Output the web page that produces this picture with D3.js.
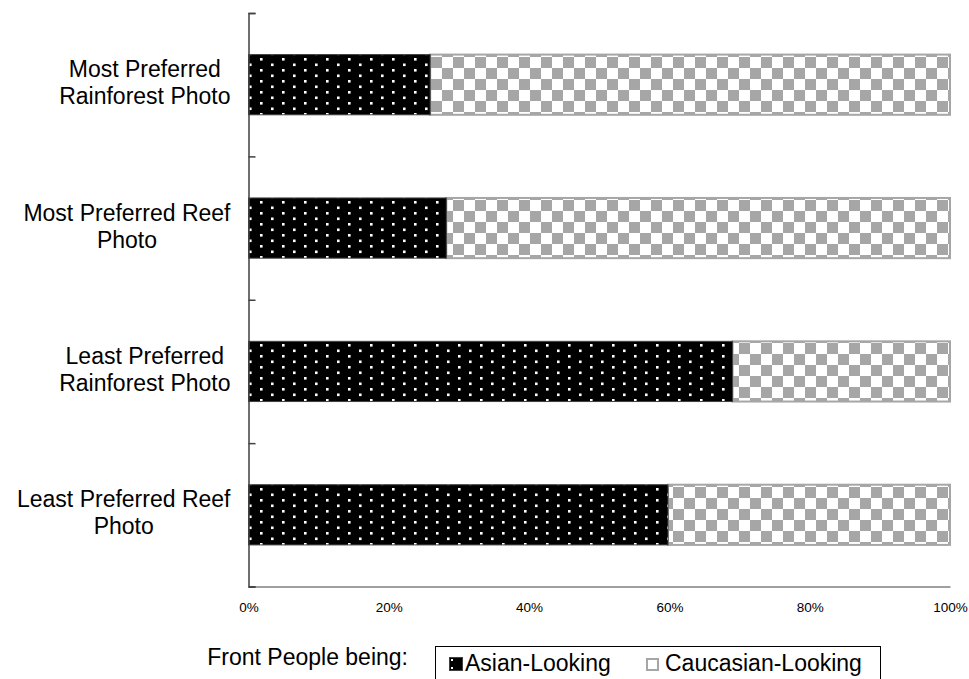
<!DOCTYPE html>
<html>
<head>
<meta charset="utf-8">
<script src="https://cdn.jsdelivr.net/npm/d3@7"></script>
<style>
  html, body { margin: 0; padding: 0; background: #fff; }
  svg { display: block; }
  text { font-family: "Liberation Sans", Arial, sans-serif; fill: #000; }
</style>
</head>
<body>
<svg id="chart" width="969" height="679"></svg>
<script>
// ---- data ----
const categories = [
  "Most Preferred\nRainforest Photo",
  "Most Preferred Reef\nPhoto",
  "Least Preferred\nRainforest Photo",
  "Least Preferred Reef\nPhoto"
];
const asianLooking = [0.259, 0.282, 0.690, 0.598];
const caucasianLooking = asianLooking.map(v => 1 - v);
const xTicks = [0, 0.2, 0.4, 0.6, 0.8, 1.0];
const seriesNames = ["Asian-Looking", "Caucasian-Looking"];
const legendTitle = "Front People being:";

// ---- layout ----
const svg = d3.select("#chart");
const mLeft = 248.5, mRight = 950, mTop = 13, mBottom = 586.5;

const x = d3.scaleLinear().domain([0, 1]).range([mLeft, mRight]);
const y = d3.scaleBand().domain(categories).range([mTop, mBottom])
  .paddingInner(0.58).paddingOuter(0.29);

const defs = svg.append("defs");

// per-bar patterns
categories.forEach((c, i) => {
  const by = Math.round(y(c));
  const pd = defs.append("pattern")
    .attr("id", "dots" + i).attr("patternUnits", "userSpaceOnUse")
    .attr("x", 260).attr("y", by + 3)
    .attr("width", 22).attr("height", 11);
  pd.append("rect").attr("width", 22).attr("height", 11).attr("fill", "#000");
  pd.append("rect").attr("x", 0).attr("y", 0).attr("width", 2.6).attr("height", 2.6).attr("fill", "#fff");
  pd.append("rect").attr("x", 11).attr("y", 5.5).attr("width", 2.6).attr("height", 2.6).attr("fill", "#fff");

  const pc = defs.append("pattern")
    .attr("id", "check" + i).attr("patternUnits", "userSpaceOnUse")
    .attr("x", 255).attr("y", by + 2)
    .attr("width", 22).attr("height", 22);
  pc.append("rect").attr("width", 22).attr("height", 22).attr("fill", "#fff");
  pc.append("rect").attr("x", 0).attr("y", 0).attr("width", 11).attr("height", 11).attr("fill", "#a6a6a6");
  pc.append("rect").attr("x", 11).attr("y", 11).attr("width", 11).attr("height", 11).attr("fill", "#a6a6a6");
});

// ---- bars ----
const g = svg.append("g");
g.selectAll("rect.cau").data(categories).join("rect")
  .attr("class", "cau")
  .attr("x", (d, i) => x(asianLooking[i]))
  .attr("y", d => y(d))
  .attr("width", (d, i) => x(asianLooking[i] + caucasianLooking[i]) - x(asianLooking[i]))
  .attr("height", y.bandwidth())
  .attr("fill", (d, i) => `url(#check${i})`)
  .attr("stroke", "#a6a6a6").attr("stroke-width", 2);

g.selectAll("rect.asian").data(categories).join("rect")
  .attr("class", "asian")
  .attr("x", x(0))
  .attr("y", d => y(d))
  .attr("width", (d, i) => x(asianLooking[i]) - x(0))
  .attr("height", y.bandwidth())
  .attr("fill", (d, i) => `url(#dots${i})`)
  .attr("stroke", "#404040").attr("stroke-width", 1);

// ---- axes ----
const xAxis = d3.axisBottom(x).tickValues(xTicks)
  .tickFormat(d3.format(".0%")).tickSize(0).tickPadding(16);
const xg = svg.append("g").attr("transform", `translate(0,${mBottom})`).call(xAxis);
xg.select(".domain").attr("stroke", "#404040").attr("stroke-width", 1);
xg.selectAll("text").style("font-size", "13.5px").style("font-family", "'Liberation Sans', Arial, sans-serif");

// y axis: line + ticks at band boundaries (inward)
const bScale = d3.scaleLinear().domain([0, categories.length]).range([mTop, mBottom]);
const yAxis = d3.axisLeft(bScale).tickValues(d3.range(categories.length + 1))
  .tickSize(-7).tickFormat("");
const yg = svg.append("g").attr("transform", `translate(${mLeft},0)`).call(yAxis);
yg.select(".domain").attr("stroke", "#404040").attr("stroke-width", 1.5);
yg.selectAll(".tick line").attr("stroke", "#404040").attr("stroke-width", 1.5);

// category labels: centered lines, block right-aligned at ~230
const labelG = svg.append("g");
categories.forEach(c => {
  const lines = c.split("\n");
  const cy = y(c) + y.bandwidth() / 2;
  const t = labelG.append("text").style("font-size", "23px").attr("text-anchor", "middle");
  lines.forEach((ln, k) => {
    t.append("tspan").text(ln)
      .attr("y", cy + (k - (lines.length - 1) / 2) * 27 + 6);
  });
  let maxW = 0;
  t.selectAll("tspan").each(function () { maxW = Math.max(maxW, this.getComputedTextLength()); });
  t.selectAll("tspan").attr("x", 230.5 - maxW / 2);
});

// ---- legend ----
const lg = svg.append("g");
lg.append("text").attr("x", 408).attr("y", 665).attr("text-anchor", "end")
  .style("font-size", "23px").text(legendTitle);
lg.append("rect").attr("x", 435.5).attr("y", 646.5).attr("width", 445).attr("height", 60)
  .attr("fill", "none").attr("stroke", "#000").attr("stroke-width", 1);
lg.append("rect").attr("x", 449.5).attr("y", 657.5).attr("width", 13).attr("height", 13)
  .attr("fill", "#000").attr("stroke", "#404040").attr("stroke-width", 1);
lg.append("rect").attr("x", 451).attr("y", 659).attr("width", 2).attr("height", 2).attr("fill", "#fff");
lg.append("rect").attr("x", 451).attr("y", 667).attr("width", 2).attr("height", 2).attr("fill", "#fff");
lg.append("text").attr("x", 465).attr("y", 670.5).style("font-size", "23px").text(seriesNames[0]);
lg.append("rect").attr("x", 647).attr("y", 659).attr("width", 11).attr("height", 11)
  .attr("fill", "#fff").attr("stroke", "#a6a6a6").attr("stroke-width", 2);
lg.append("text").attr("x", 665).attr("y", 670.5).style("font-size", "23px").text(seriesNames[1]);
</script>
</body>
</html>
